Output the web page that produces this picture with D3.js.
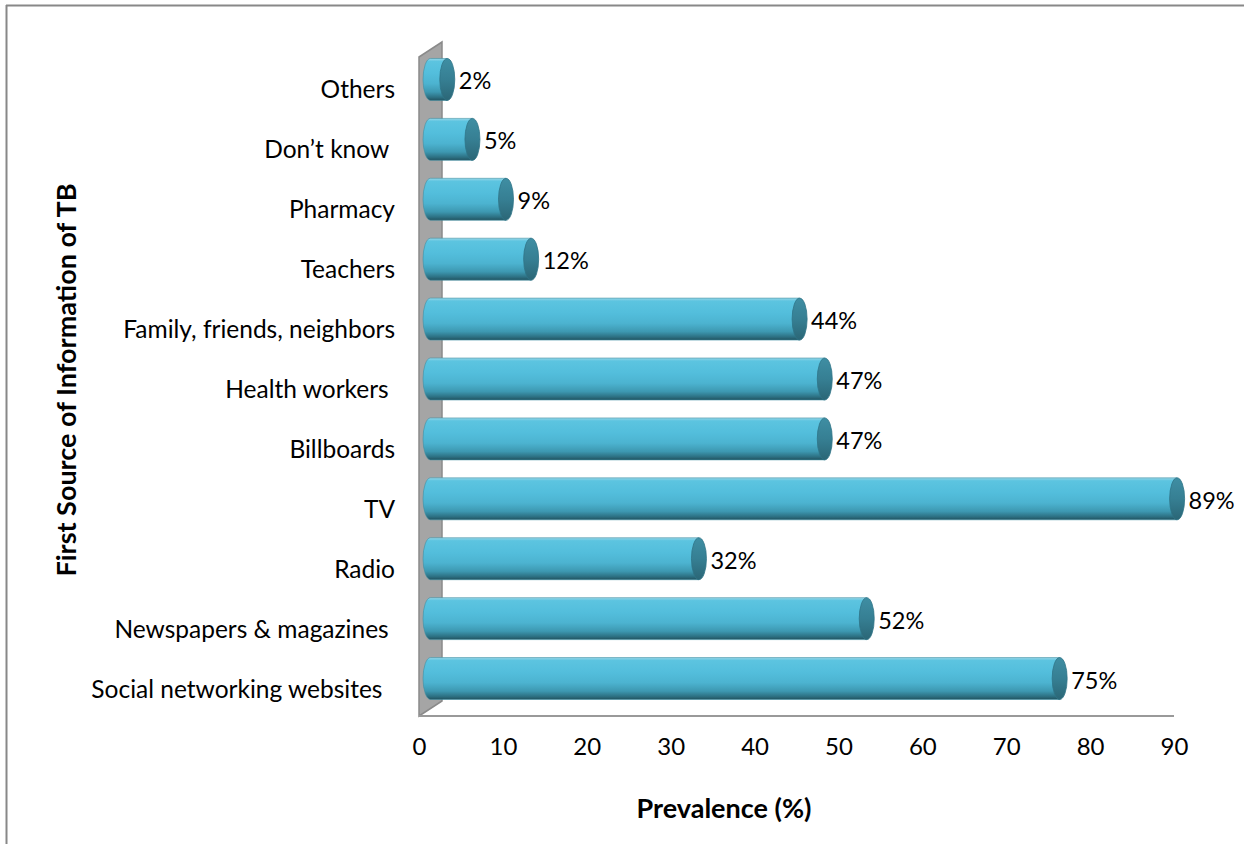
<!DOCTYPE html>
<html>
<head>
<meta charset="utf-8">
<script src="https://cdn.jsdelivr.net/npm/d3@7"></script>
<style>
  html, body { margin: 0; padding: 0; background: #fff; }
  svg { display: block; }
  text { font-family: Lato, "Open Sans", sans-serif; fill: #000; white-space: pre; }
</style>
</head>
<body>
<svg id="chart" width="1244" height="844"></svg>
<script>
// Data (top to bottom as shown)
const categories = [
  "Others",
  "Don\u2019t know ",
  "Pharmacy",
  "Teachers",
  "Family, friends, neighbors",
  "Health workers ",
  "Billboards",
  "TV",
  "Radio",
  "Newspapers & magazines ",
  "Social networking websites  "
];
const values = [2, 5, 9, 12, 44, 47, 47, 89, 32, 52, 75];
const xTicks = [0, 10, 20, 30, 40, 50, 60, 70, 80, 90];
const xTitle = "Prevalence (%)";
const yTitle = "First Source of Information of TB";

const svg = d3.select("#chart");
const defs = svg.append("defs");

const grad = defs.append("linearGradient")
  .attr("id", "cyl").attr("x1", 0).attr("y1", 0).attr("x2", 0).attr("y2", 1);
[[0, "#9ad8e9"], [0.07, "#5cc4e0"], [0.35, "#53bedc"], [0.6, "#4cb3d0"],
 [0.8, "#3d98b1"], [0.93, "#2c6f81"], [1, "#21525f"]].forEach(([o, c]) =>
  grad.append("stop").attr("offset", o).attr("stop-color", c));

const capGrad = defs.append("linearGradient")
  .attr("id", "cap").attr("x1", 0).attr("y1", 0).attr("x2", 0).attr("y2", 1);
[[0, "#3f8ea3"], [0.5, "#367f93"], [1, "#2b6676"]].forEach(([o, c]) =>
  capGrad.append("stop").attr("offset", o).attr("stop-color", c));

// Frame
svg.append("line").attr("x1", 6).attr("x2", 1244).attr("y1", 5.5).attr("y2", 5.5)
  .attr("stroke", "#888").attr("stroke-width", 2);
svg.append("line").attr("x1", 6.5).attr("x2", 6.5).attr("y1", 5).attr("y2", 844)
  .attr("stroke", "#888").attr("stroke-width", 2);

// Scales (front plane)
const x = d3.scaleLinear().domain([0, 90]).range([419, 1174]);
const y = d3.scaleBand().domain(categories).range([57, 716])
  .paddingInner(0.3).paddingOuter(0.15);

// 3D depth
const depthX = 23, depthY = -15;
const dx = depthX / 2, dy = depthY / 2;

// Back wall
const x0 = x(0);
svg.append("polygon")
  .attr("points", [[x0, 57], [x0 + depthX, 57 + depthY], [x0 + depthX, 716 + depthY], [x0, 716]].join(" "))
  .attr("fill", "#a5a5a5").attr("stroke", "#8a8a8a").attr("stroke-width", 1.5);

// Floor line
svg.append("line").attr("x1", x0).attr("x2", x(90)).attr("y1", 716).attr("y2", 716)
  .attr("stroke", "#999").attr("stroke-width", 2);

// Bars (cylinders)
const bh = y.bandwidth();
const rx = 7.5;
const bars = svg.append("g").selectAll("g").data(categories).join("g");
bars.each(function (c, i) {
  const g = d3.select(this);
  const v = values[i];
  const top = y(c) + dy;
  const xs = x(0) + dx;
  const xe = x(v) + dx;
  const ry = bh / 2;
  const cy = top + ry;
  const path = `M${xs},${top} L${xe},${top} L${xe},${top + bh} L${xs},${top + bh} ` +
    `A${rx},${ry} 0 0 1 ${xs},${top} Z`;
  g.append("path").attr("d", path).attr("fill", "url(#cyl)")
    .attr("stroke", "#3f8ea3").attr("stroke-width", 0.6);
  g.append("ellipse").attr("cx", xe).attr("cy", cy).attr("rx", rx).attr("ry", ry)
    .attr("fill", "url(#cap)").attr("stroke", "#2f7386").attr("stroke-width", 0.8);
  g.append("text")
    .attr("x", xe + rx + 4).attr("y", cy + 1)
    .attr("dominant-baseline", "central")
    .attr("font-size", 23.5)
    .text(v + "%");
});

// Category labels
svg.append("g").selectAll("text").data(categories).join("text")
  .attr("x", 395).attr("y", d => y(d) + bh / 2 + 2)
  .attr("text-anchor", "end").attr("dominant-baseline", "central")
  .attr("font-size", 24.5)
  .text(d => d);

// X axis tick labels
const xAxis = d3.axisBottom(x).tickValues(xTicks).tickSize(0).tickPadding(0);
const gx = svg.append("g").attr("transform", "translate(0,738)").call(xAxis);
gx.select(".domain").remove();
gx.selectAll("text").attr("font-size", 24).attr("font-family", "Lato, sans-serif")
  .attr("fill", "#000").attr("dy", "0.71em");

// Axis titles
svg.append("text").attr("x", 724).attr("y", 807)
  .attr("text-anchor", "middle").attr("dominant-baseline", "central")
  .attr("font-size", 27).attr("font-weight", "bold").text(xTitle);

svg.append("text").attr("transform", "translate(65,380) rotate(-90)")
  .attr("text-anchor", "middle").attr("dominant-baseline", "central")
  .attr("font-size", 27).attr("font-weight", "bold").text(yTitle);
</script>
</body>
</html>
